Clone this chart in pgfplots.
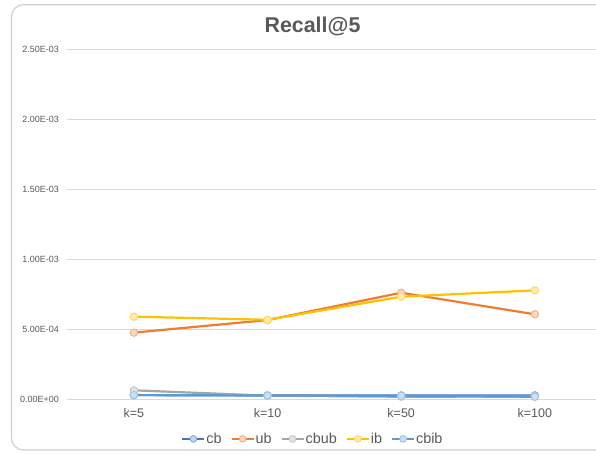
\documentclass[border=0pt]{standalone}
\usepackage{pgfplots}
\pgfplotsset{compat=1.18}
\usepackage{fontspec}
\setmainfont{Liberation Sans}
\definecolor{cbc}{HTML}{4472C4}
\definecolor{ubc}{HTML}{ED7D31}
\definecolor{cbubc}{HTML}{A5A5A5}
\definecolor{ibc}{HTML}{FFC000}
\definecolor{cbibc}{HTML}{5B9BD5}
\definecolor{txt}{HTML}{595959}
\definecolor{gridc}{HTML}{D9D9D9}
\definecolor{framec}{HTML}{D0D0D0}
\begin{document}
\begin{tikzpicture}
\begin{axis}[
  scale only axis,
  width=534.7pt, height=350pt,
  xmin=-0.5, xmax=3.5,
  ymin=0, ymax=0.0025,
  scaled y ticks=false,
  xtick={0,1,2,3},
  xticklabels={k=5,k=10,k=50,k=100},
  ytick={0,0.0005,0.001,0.0015,0.002,0.0025},
  yticklabels={0.00E+00,5.00E-04,1.00E-03,1.50E-03,2.00E-03,2.50E-03},
  ymajorgrids,
  major grid style={gridc, line width=0.8pt},
  axis line style={draw=none},
  major tick length=0pt,
  yticklabel style={font=\fontsize{9}{10}\selectfont, text=txt, inner sep=0pt, anchor=east, xshift=-8pt},
  xticklabel style={font=\fontsize{12.5}{14}\selectfont, text=txt, inner sep=0pt, anchor=north, yshift=-9pt},
  clip=false,
  legend columns=-1,
  legend style={at={(0.459,-0.114)}, anchor=center, draw=none, fill=none,
    font=\fontsize{14.4}{16}\selectfont, text=txt, inner sep=0pt,
    /tikz/every even column/.append style={column sep=8pt},
    nodes={inner sep=1pt}},
  legend image code/.code={\draw[mark repeat=2,mark phase=2,#1, line width=2pt, mark size=3.3pt] plot coordinates {(0pt,0pt) (11pt,0pt) (22pt,0pt)};},
  every axis plot/.append style={line width=2.2pt, mark=*, mark size=3.7pt},
]
\coordinate (O) at (rel axis cs:0,0);
\addplot[cbc, mark options={fill=cbc!30!white, draw=cbc!60!white, line width=1pt}] coordinates {(0,0.000028) (1,0.000026) (2,0.000026) (3,0.000026)};
\addlegendentry{cb}
\addplot[ubc, mark options={fill=ubc!30!white, draw=ubc!60!white, line width=1pt}] coordinates {(0,0.000474) (1,0.000564) (2,0.000759) (3,0.000605)};
\addlegendentry{ub}
\addplot[cbubc, mark options={fill=cbubc!30!white, draw=cbubc!60!white, line width=1pt}] coordinates {(0,0.000062) (1,0.000024) (2,0.000016) (3,0.000018)};
\addlegendentry{cbub}
\addplot[ibc, mark options={fill=ibc!30!white, draw=ibc!60!white, line width=1pt}] coordinates {(0,0.000588) (1,0.000566) (2,0.000731) (3,0.000776)};
\addlegendentry{ib}
\addplot[cbibc, mark options={fill=cbibc!30!white, draw=cbibc!60!white, line width=1pt}] coordinates {(0,0.000028) (1,0.000025) (2,0.000023) (3,0.000016)};
\addlegendentry{cbib}
\end{axis}
\node[anchor=base, inner sep=0pt, text=txt, font=\bfseries\fontsize{21.4}{24}\selectfont] at ([shift={(245.5pt,366.3pt)}]O) {Recall@5};
\draw[framec, line width=1.2pt, rounded corners=12pt] ([shift={(-55.5pt,-51pt)}]O) rectangle ([shift={(600pt,394.3pt)}]O);
\pgfresetboundingbox
\path[use as bounding box] ([shift={(-67pt,-54pt)}]O) rectangle ([shift={(529pt,399pt)}]O);
\end{tikzpicture}
\end{document}
